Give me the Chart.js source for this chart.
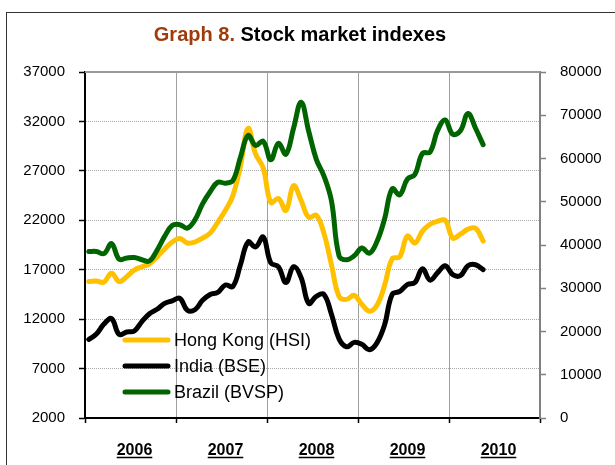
<!DOCTYPE html>
<html>
<head>
<meta charset="utf-8">
<script src="https://cdn.jsdelivr.net/npm/chart.js@4"></script>
<style>
  body { margin: 0; background: #fff; font-family: "Liberation Sans", Arial, sans-serif; }
  #frame { position: absolute; left: 6px; top: 12px; width: 700px; height: 500px; border: 1.5px solid #333; }
  #title { position: absolute; left: 0; width: 600px; top: 24px; line-height: 20px; text-align: center; font-size: 20px; font-weight: bold; color: #000; }
  #title span { color: #9e3d0c; }
  canvas { position: absolute; left: 0; top: 0; }
</style>
</head>
<body>
<div id="frame"></div>
<canvas id="chart" width="615" height="465"></canvas>
<div id="title"><span>Graph 8.</span> Stock market indexes</div>
<script>
// monthly values, Jan 2006 - May 2010
const years = ['2006', '2007', '2008', '2009', '2010'];
const hongKong = [15800, 15850, 15750, 16650, 15800, 16300, 16950, 17300, 17600, 18300, 19100, 19800,
    20150, 19700, 19800, 20200, 20700, 21800, 23000, 24500, 27500, 31300, 28700, 27300,
    23800, 24200, 23000, 25500, 24000, 22300, 22500, 20700, 17500, 14300, 14000, 14400,
    13500, 12800, 13400, 15400, 18100, 18300, 20400, 19700, 20900, 21600, 21900, 22000,
    20200, 20600, 21100, 21200, 19900];
const india = [9950, 10500, 11500, 12050, 10450, 10700, 10800, 11750, 12550, 13000, 13600, 13850,
    14100, 12900, 12950, 13900, 14500, 14700, 15450, 15300, 17500, 19800, 19300, 20300,
    17700, 17300, 15700, 17300, 16200, 13600, 14300, 14500, 12500, 10000, 9200, 9650,
    9450, 8900, 9600, 11400, 14500, 14800, 15500, 15700, 17100, 15950, 16700, 17400,
    16500, 16400, 17400, 17500, 17000];
const brazil = [38500, 38500, 38000, 40300, 36700, 37000, 37100, 36600, 36300, 38800, 42000, 44500,
    44700, 43900, 45800, 49500, 52300, 54500, 54300, 54900, 60300, 65300, 63000, 64000,
    59700, 63500, 61000, 67000, 73000, 66300, 59800, 56000, 50200, 37500, 36600, 37500,
    39300, 38100, 40800, 46000, 53000, 51600, 55200, 56300, 61200, 61500, 66500, 68900,
    65600, 66400, 70400, 67000, 63200];

const seriesNames = ['Hong Kong (HSI)', 'India (BSE)', 'Brazil (BVSP)'];
const seriesColors = ['#ffc000', '#000000', '#006400'];

function toPoints(arr) {
    return arr.map((v, i) => ({ x: i + 0.5, y: v }));
}

const fontFamily = '"Liberation Sans", Arial, sans-serif';

// legend inside the plot area
const legendPlugin = {
    id: 'insideLegend',
    afterDatasetsDraw(chart) {
        const { ctx, chartArea } = chart;
        ctx.save();
        ctx.font = '18px ' + fontFamily;
        ctx.textBaseline = 'middle';
        ctx.lineCap = 'round';
        seriesNames.forEach((name, i) => {
            const y = chartArea.top + 268 + i * 26;
            const x = chartArea.left + 40;
            ctx.strokeStyle = seriesColors[i];
            ctx.lineWidth = 5;
            ctx.beginPath();
            ctx.moveTo(x, y);
            ctx.lineTo(x + 43, y);
            ctx.stroke();
            ctx.fillStyle = '#000';
            ctx.fillText(name, x + 49, y + 1);
        });
        ctx.restore();
    }
};

// year labels centred between the year ticks, bold + underlined
const yearPlugin = {
    id: 'yearLabels',
    afterDraw(chart) {
        const { ctx } = chart;
        const xs = chart.scales.x;
        ctx.save();
        ctx.font = 'bold 16px ' + fontFamily;
        ctx.fillStyle = '#000';
        ctx.strokeStyle = '#000';
        ctx.lineWidth = 1.5;
        ctx.textAlign = 'center';
        ctx.textBaseline = 'alphabetic';
        years.forEach((yr, k) => {
            const cx = xs.getPixelForValue(k * 12 + 6) + 4;
            const base = 455;
            ctx.fillText(yr, cx, base);
            const w = ctx.measureText(yr).width;
            ctx.beginPath();
            ctx.moveTo(cx - w / 2, base + 2.5);
            ctx.lineTo(cx + w / 2, base + 2.5);
            ctx.stroke();
        });
        // top edge of the plot
        const a = chart.chartArea;
        ctx.strokeStyle = '#999';
        ctx.lineWidth = 2;
        ctx.beginPath();
        ctx.moveTo(a.left, a.top);
        ctx.lineTo(a.right, a.top);
        ctx.stroke();
        ctx.restore();
    }
};

const plain = v => String(v);

const ctx = document.getElementById('chart').getContext('2d');
const chart = new Chart(ctx, {
    type: 'line',
    data: {
        datasets: [
            { label: seriesNames[0], data: toPoints(hongKong), yAxisID: 'y', borderColor: seriesColors[0], order: 2 },
            { label: seriesNames[1], data: toPoints(india), yAxisID: 'y', borderColor: seriesColors[1], order: 1 },
            { label: seriesNames[2], data: toPoints(brazil), yAxisID: 'y1', borderColor: seriesColors[2], order: 0 }
        ]
    },
    options: {
        responsive: false,
        animation: false,
        devicePixelRatio: 1,
        layout: { padding: { top: 72, left: 0, right: 0, bottom: 0 } },
        elements: {
            line: { borderWidth: 5, tension: 0.4, borderCapStyle: 'round', borderJoinStyle: 'round', fill: false },
            point: { radius: 0 }
        },
        plugins: { legend: { display: false }, tooltip: { enabled: false } },
        scales: {
            x: {
                type: 'linear', min: 0, max: 60,
                afterFit: s => { s.height = 47; },
                ticks: { display: false, stepSize: 12 },
                grid: { color: '#a0a0a0', lineWidth: 1, tickLength: 5, tickColor: '#000', tickWidth: 1.5 },
                border: { color: '#000', width: 2 }
            },
            y: {
                position: 'left', min: 2000, max: 37000,
                afterFit: s => { s.width = 85; },
                ticks: { stepSize: 5000, color: '#000', padding: 14, callback: plain, font: { family: fontFamily, size: 15 } },
                grid: { color: '#a8a8a8', lineWidth: 1, tickLength: 6, tickColor: '#000', tickWidth: 1.5 },
                border: { color: '#000', width: 2, dash: [1, 1] }
            },
            y1: {
                position: 'right', min: 0, max: 80000,
                afterFit: s => { s.width = 75; },
                ticks: { stepSize: 10000, color: '#000', padding: 14, callback: plain, font: { family: fontFamily, size: 15 } },
                grid: { drawOnChartArea: false, tickLength: 6, tickColor: '#808080', tickWidth: 1.5 },
                border: { color: '#808080', width: 2 }
            }
        }
    },
    plugins: [legendPlugin, yearPlugin]
});
</script>
</body>
</html>
